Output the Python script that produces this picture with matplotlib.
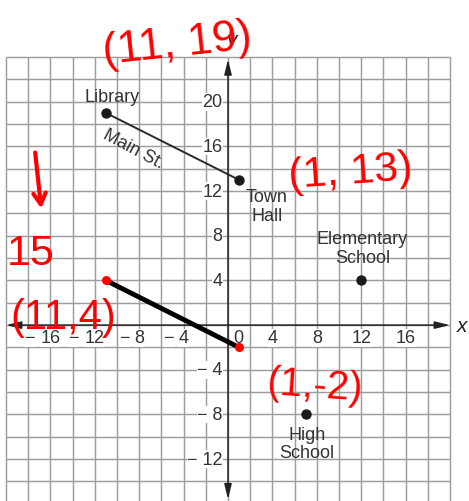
import numpy as np
import matplotlib.pyplot as plt

plt.rcParams['font.family'] = ['Liberation Sans', 'DejaVu Sans']

# -- places on the map
places = ['Library', 'Town\nHall', 'Elementary\nSchool', 'High\nSchool']
place_x = [-11, 1, 12, 7]
place_y = [19, 13, 4, -8]

# Main St. goes from the Library to the Town Hall
main_x = [-11, 1]
main_y = [19, 13]

# translated segment (hand drawn)
seg_x = [-11, 1]
seg_y = [4, -2]

x_ticks = [-16, -12, -8, -4, 0, 4, 8, 12, 16]
y_ticks = [-12, -8, -4, 4, 8, 12, 16, 20]

# handwritten notes
notes = ['(11, 19)', '(1, 13)', '15', '(11,4)', '(1,-2)']
note_x = [-4.6, 11.0, -17.8, -14.8, 7.8]
note_y = [25.2, 13.7, 6.5, 0.7, -5.4]
note_rot = [6, 4, 0, 0, -4]
note_size = [32, 31, 31, 30, 29]

fig = plt.figure(figsize=(4.69, 5.02), dpi=100)
ax = fig.add_axes([0, 0, 1, 1])
ax.set_xlim(-20.54, 21.71)
ax.set_ylim(-15.75, 29.2)
ax.axis('off')

grid_c = '#9d9d9d'
ax.vlines(np.arange(-20, 21, 2), -16, 24, color=grid_c, lw=1.05, zorder=1)
ax.hlines(np.arange(-16, 25, 2), -20, 20, color=grid_c, lw=1.05, zorder=1)

# axes with arrows
arr = dict(arrowstyle='<|-|>,head_length=0.9,head_width=0.22', color='#222222',
           lw=1.1, shrinkA=0, shrinkB=0)
ax.annotate('', xy=(20, 0), xytext=(-20, 0), arrowprops=arr, zorder=3)
ax.annotate('', xy=(0, 23.8), xytext=(0, -15.6), arrowprops=arr, zorder=3)
ax.text(20.6, 0, 'x', style='italic', fontsize=15, color='#222222',
        ha='left', va='center')
ax.text(0.3, 25.6, 'y', style='italic', fontsize=15, color='#222222',
        ha='center', va='center')

tick_kw = dict(fontsize=13, color='#333333', zorder=4,
               bbox=dict(facecolor='white', edgecolor='none', pad=0.3))
for v in x_ticks:
    if v == 0:
        ax.text(0.9, -1.15, '0', ha='center', va='center', **tick_kw)
    elif v < 0:
        ax.text(v, -1.15, str(-v), ha='center', va='center', **tick_kw)
        ax.text(v - 0.8 - 0.55 * len(str(-v)), -1.15, '\u2212', ha='center',
                va='center', **tick_kw)
    else:
        ax.text(v, -1.15, str(v), ha='center', va='center', **tick_kw)
for v in y_ticks:
    lab = str(v) if v > 0 else '\u2212 ' + str(-v)
    ax.text(-0.5, v, lab, ha='right', va='center', **tick_kw)

# Main St. and places
ax.plot(main_x, main_y, color='#2a2a2a', lw=1.4, zorder=5)
ax.scatter(place_x, place_y, s=42, color='#1a1a1a', zorder=6)
lab_off = [(0.6, 1.5), (2.5, -2.3), (0.1, 2.9), (0.1, -2.6)]
for name, px, py, (dx, dy) in zip(places, place_x, place_y, lab_off):
    ax.text(px + dx, py + dy, name, ha='center', va='center', fontsize=13,
            color='#333333', linespacing=1.15, zorder=6)
ax.text(-8.5, 15.8, 'Main St.', rotation=-28, ha='center', va='center',
        fontsize=13, color='#333333', zorder=6)

# hand drawn black segment with red end marks
ax.plot(seg_x, seg_y, color='black', lw=3.5, solid_capstyle='round', zorder=7)
ax.scatter(seg_x, seg_y, s=30, color='red', zorder=8)

# red handwriting
for t, nx, ny, r, fs in zip(notes, note_x, note_y, note_rot, note_size):
    ax.text(nx, ny, t, ha='center', va='center', fontsize=fs, color='red',
            rotation=r, zorder=9)
ax.annotate('', xy=(-16.8, 10.2), xytext=(-17.4, 15.7),
            arrowprops=dict(arrowstyle='->,head_length=0.8,head_width=0.45',
                            color='red', lw=3), zorder=9)

fig.savefig('out.png', dpi=100)
